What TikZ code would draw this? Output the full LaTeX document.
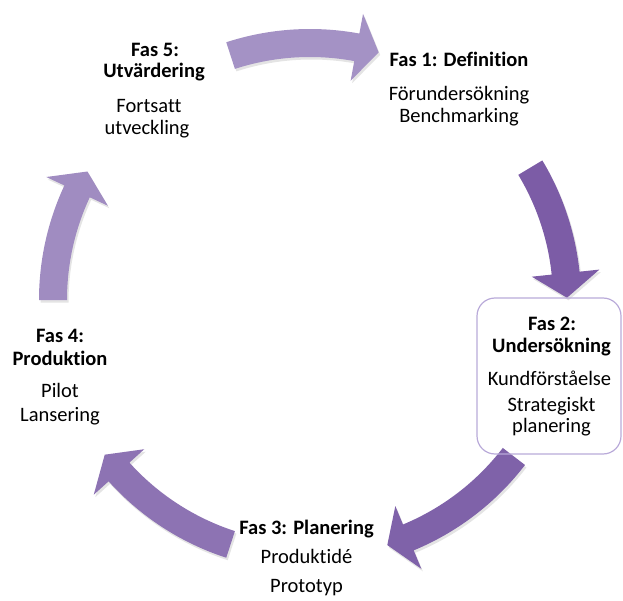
\documentclass[tikz,border=0pt]{standalone}
\usepackage{fontspec}
\setmainfont{Carlito}[Ligatures={NoCommon,NoContextual}]
\usetikzlibrary{shadows}
\definecolor{arrA}{HTML}{A492C5}
\definecolor{arrB}{HTML}{7C5CA6}
\definecolor{arrC}{HTML}{7F62A9}
\definecolor{arrD}{HTML}{8D73B3}
\definecolor{arrE}{HTML}{A08CC1}
\definecolor{boxline}{HTML}{B9AAD9}
% circular arrow: tail angle, head-base angle, tip angle, colour
\newcommand\cycarrow[4]{%
  \fill[arr,fill=#4] (#1:271pt) arc[start angle=#1, end angle=#2, radius=271pt]
    -- (#2:291pt) -- (#3:257pt) -- (#2:223pt) -- (#2:243pt)
    arc[start angle=#2, end angle=#1, radius=243pt] -- cycle;}
\begin{document}
\begin{tikzpicture}[x=1pt,y=-1pt,
  lbl/.style={anchor=base, inner sep=0pt, font=\fontsize{20.5}{24}\selectfont, text=black},
  hd/.style={lbl, font=\fontsize{20.5}{24}\selectfont\bfseries},
  arr/.style={draw=none, general shadow={fill=black!70, opacity=0.15, shadow xshift=1.5pt, shadow yshift=-2.5pt}},
  phasebox/.style={draw=boxline, line width=1.2pt, rounded corners=18pt}
]
\useasboundingbox (0,0) rectangle (623,601);
\coordinate (c) at (310,300);

\begin{scope}[shift={(c)}]
  \cycarrow{108}{79.5}{74.5}{arrA}
  \cycarrow{31}{6}{0.5}{arrB}
  \cycarrow{-37.5}{-67.5}{-72.5}{arrC}
  \cycarrow{-108}{-138}{-143}{arrD}
  \cycarrow{180}{155}{150}{arrE}
\end{scope}

\draw[phasebox] (477,298) rectangle (621,454);

% Fas 1
\node[hd]  (f1a) at (459,67)    {Fas 1: Definition};
\node[lbl] (f1b) at (459,100.5) {Förundersökning};
\node[lbl] (f1c) at (459,123)   {Benchmarking};
% Fas 2
\node[hd]  (f2a) at (552,330) {Fas 2:};
\node[hd]  (f2b) at (551.5,352) {Undersökning};
\node[lbl] (f2c) at (549.5,385) {Kundförståelse};
\node[lbl] (f2d) at (551.5,411) {Strategiskt};
\node[lbl] (f2e) at (551.5,432) {planering};
% Fas 3
\node[hd]  (f3a) at (306.5,534) {Fas 3: Planering};
\node[lbl] (f3b) at (306.5,563) {Produktidé};
\node[lbl] (f3c) at (306.5,592) {Prototyp};
% Fas 4
\node[hd]  (f4a) at (60,342)   {Fas 4:};
\node[hd]  (f4b) at (60,365)   {Produktion};
\node[lbl] (f4c) at (60,397)   {Pilot};
\node[lbl] (f4d) at (60,421.5) {Lansering};
% Fas 5
\node[hd]  (f5a) at (155,56.5) {Fas 5:};
\node[hd]  (f5b) at (154,78)   {Utvärdering};
\node[lbl] (f5c) at (149,113)  {Fortsatt};
\node[lbl] (f5d) at (147,135)  {utveckling};
\end{tikzpicture}
\end{document}
